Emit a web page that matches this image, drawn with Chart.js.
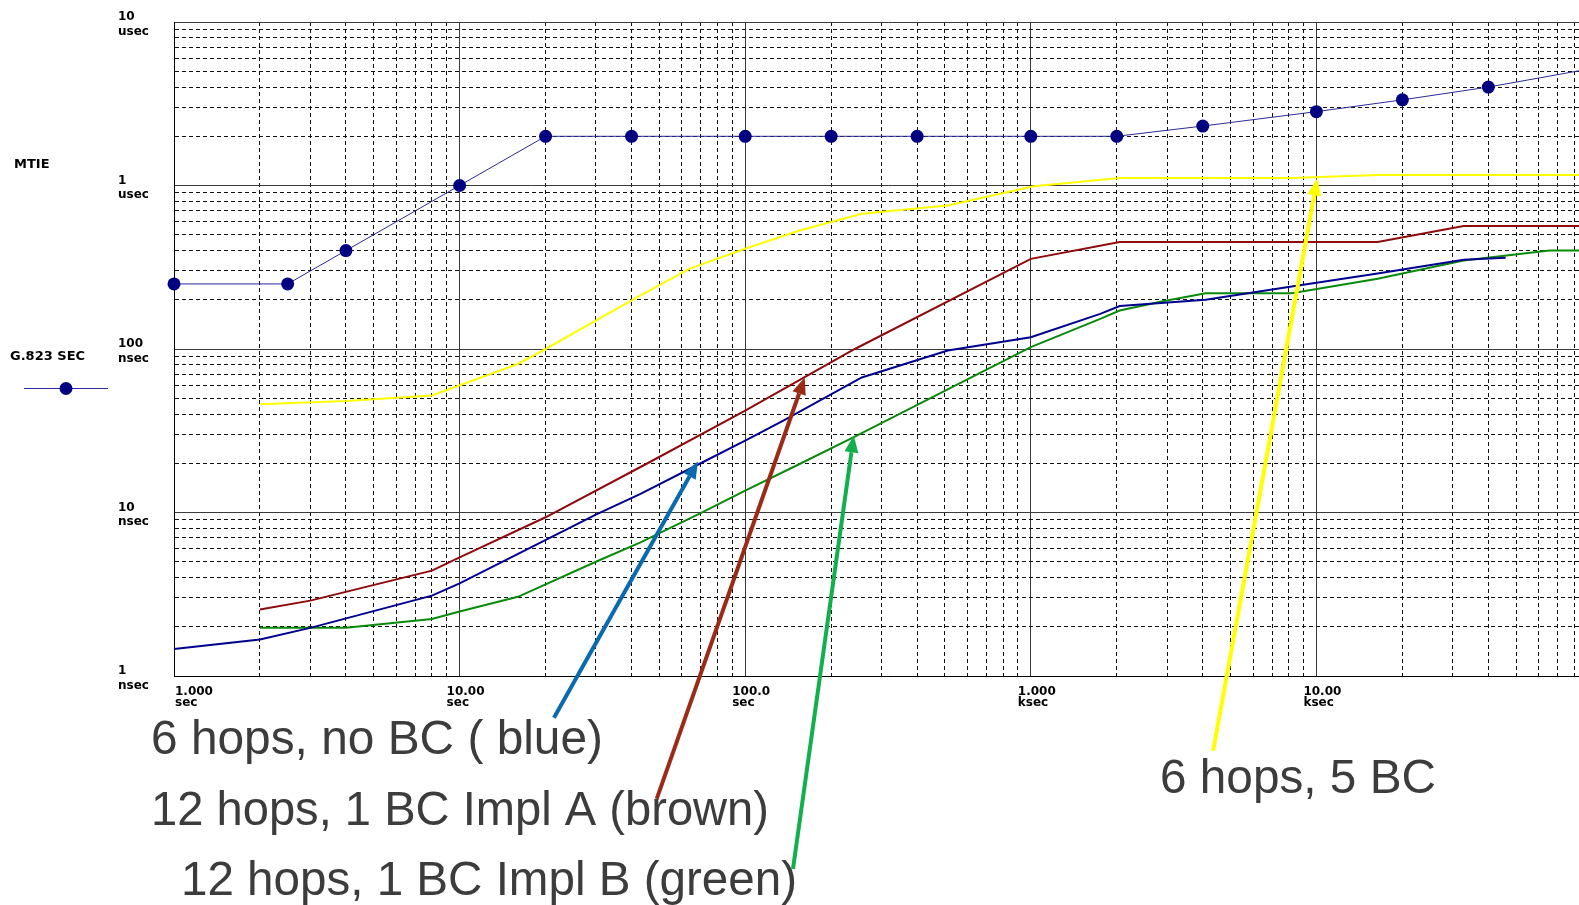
<!DOCTYPE html>
<html>
<head>
<meta charset="utf-8">
<title>MTIE</title>
<script src="https://cdn.jsdelivr.net/npm/chart.js@4.4.1/dist/chart.umd.min.js"></script>
<style>
  html, body { margin: 0; padding: 0; background: #fff; overflow: hidden; }
  #wrap { position: relative; width: 1602px; height: 905px; }
</style>
</head>
<body>
<div id="wrap"><canvas id="mtie-chart"></canvas></div>
<script>
// observation interval tau in seconds, MTIE in ns
const g823Tau = [1, 2.5, 4, 10, 20, 40, 100, 200, 400, 1000, 2000, 4000, 10000, 20000, 40000, 100000];
const g823Mtie = [250, 250, 400, 1000, 2000, 2000, 2000, 2000, 2000, 2000, 2000, 2310, 2830, 3340, 4000, 5330];

const noBcTau = [1, 2, 3, 8, 10, 30, 43, 69, 100, 136, 256, 512, 1000, 1750, 2048, 4096, 8192, 16384, 32768, 46000];
const noBcMtie = [1.46, 1.67, 1.97, 3.1, 3.69, 9.7, 13, 19.8, 27.5, 36.5, 67, 98, 118, 164, 183, 200, 241, 290, 352, 361];

const implATau = [2, 3, 8, 10, 20, 45, 100, 242, 1000, 2048, 16384, 32768, 100000];
const implAMtie = [2.55, 2.89, 4.41, 5.32, 9.35, 19.8, 42, 100, 356, 451, 451, 566, 566];

const implBTau = [2, 4, 8, 10, 16, 30, 43, 69, 100, 155, 242, 1000, 1750, 2048, 2900, 4096, 8192, 16384, 32768, 65536, 100000];
const implBMtie = [1.97, 1.97, 2.23, 2.48, 3.05, 5.0, 6.57, 9.8, 13.6, 19.8, 29.1, 102.6, 153, 172, 196, 219, 219, 269, 348, 401, 401];

const bc5Tau = [2, 4, 8, 16, 20, 40, 64, 100, 155, 256, 512, 1024, 2048, 8192, 16384, 100000];
const bc5Mtie = [46, 48, 52, 81, 100, 198, 310, 410, 530, 672, 755, 990, 1110, 1110, 1160, 1160];

const xDecades = [1, 10, 100, 1000, 10000];
const xTickText = [['1.000', 'sec'], ['10.00', 'sec'], ['100.0', 'sec'], ['1.000', 'ksec'], ['10.00', 'ksec']];
const yDecades = [1, 10, 100, 1000, 10000];
const yTickText = [['1', 'nsec'], ['10', 'nsec'], ['100', 'nsec'], ['1', 'usec'], ['10', 'usec']];

// annotation arrows: [tau, ns] for tail and tip
const arrowLabels = ['6 hops, no BC ( blue)', '12 hops, 1 BC Impl A (brown)', '12 hops, 1 BC Impl B (green)', '6 hops, 5 BC'];
const arrowTails = [[21.4, 0.556], [49, 0.177], [147, 0.066], [4350, 0.349]];
const arrowTips = [[68.3, 20.5], [161.6, 67], [240, 29.6], [10070, 1104]];

document.addEventListener('DOMContentLoaded', () => {
    const tickFont = 'bold 12px "DejaVu Sans", Arial, sans-serif';
    const arrowColors = ['#0a6ab0', '#9b2a16', '#12b04c', '#ffff00'];
    const labelPos = [[151, 754], [151, 825], [181, 895], [1160, 793]];
    const labelMaxWidth = [452, 618, 616, 276];

    const isDecade = (v) => Math.abs(Math.log10(v) - Math.round(Math.log10(v))) < 1e-9;

    function logTicks(min, max) {
        const ticks = [];
        for (let e = Math.round(Math.log10(min)); e < Math.round(Math.log10(max)); e++) {
            for (let m = 1; m < 10; m++) ticks.push({ value: m * Math.pow(10, e) });
        }
        ticks.push({ value: max });
        return ticks;
    }

    const toPoints = (xs, ys) => xs.map((t, i) => ({ x: t, y: ys[i] }));

    const gridColor = (ctx) => (ctx.tick && isDecade(ctx.tick.value)) ? '#3a3a3a' : '#111';
    const gridDash = (ctx) => (ctx.tick && !isDecade(ctx.tick.value)) ? [4, 3] : [];

    function drawArrow(ctx, x1, y1, x2, y2, color) {
        const ang = Math.atan2(y2 - y1, x2 - x1);
        const head = 17, half = 7;
        const bx = x2 - head * Math.cos(ang), by = y2 - head * Math.sin(ang);
        ctx.strokeStyle = color;
        ctx.fillStyle = color;
        ctx.lineWidth = 4;
        ctx.beginPath();
        ctx.moveTo(x1, y1);
        ctx.lineTo(bx, by);
        ctx.stroke();
        ctx.beginPath();
        ctx.moveTo(x2, y2);
        ctx.lineTo(bx + half * Math.sin(ang), by - half * Math.cos(ang));
        ctx.lineTo(bx - half * Math.sin(ang), by + half * Math.cos(ang));
        ctx.closePath();
        ctx.fill();
    }

    const annotations = {
        id: 'annotations',
        afterDraw(chart) {
            const { ctx, chartArea, scales: { x, y } } = chart;
            ctx.save();

            // two-line tick labels, placed from the scales
            ctx.font = tickFont;
            ctx.fillStyle = '#000';
            ctx.textAlign = 'left';
            ctx.textBaseline = 'alphabetic';
            xDecades.forEach((v, i) => {
                const px = x.getPixelForValue(v);
                const left = i === 0 ? px + 1 : px - 13;
                ctx.fillText(xTickText[i][0], left, chartArea.bottom + 18.5);
                ctx.fillText(xTickText[i][1], left, chartArea.bottom + 29.5);
            });
            yDecades.forEach((v, i) => {
                const py = y.getPixelForValue(v);
                ctx.fillText(yTickText[i][0], 118, py - 2);
                ctx.fillText(yTickText[i][1], 118, py + 12.5);
            });

            arrowTips.forEach((tip, i) => {
                drawArrow(ctx,
                    x.getPixelForValue(arrowTails[i][0]), y.getPixelForValue(arrowTails[i][1]),
                    x.getPixelForValue(tip[0]), y.getPixelForValue(tip[1]),
                    arrowColors[i]);
            });

            ctx.font = '48px "Liberation Sans", Arial, sans-serif';
            ctx.fillStyle = '#3c3c3c';
            arrowLabels.forEach((text, i) => ctx.fillText(text, labelPos[i][0], labelPos[i][1], labelMaxWidth[i]));

            // axis title and legend on the left
            ctx.font = 'bold 13px "DejaVu Sans", Arial, sans-serif';
            ctx.fillStyle = '#000';
            ctx.textBaseline = 'middle';
            ctx.fillText('MTIE', 14, 165);
            ctx.fillText(chart.data.datasets[0].label, 10, 357);
            ctx.strokeStyle = '#2a2a9a';
            ctx.lineWidth = 1;
            ctx.beginPath();
            ctx.moveTo(24, 388.5);
            ctx.lineTo(108, 388.5);
            ctx.stroke();
            ctx.fillStyle = '#000080';
            ctx.beginPath();
            ctx.arc(66, 388.5, 6.5, 0, Math.PI * 2);
            ctx.fill();
            ctx.restore();
        }
    };

    new Chart(document.getElementById('mtie-chart'), {
        type: 'line',
        data: {
            datasets: [
                {
                    label: 'G.823 SEC',
                    data: toPoints(g823Tau, g823Mtie),
                    borderColor: '#2a2a9a',
                    borderWidth: 1,
                    pointRadius: 6.5,
                    pointBackgroundColor: '#000080',
                    pointBorderWidth: 0,
                    clip: false
                },
                { label: '6 hops, no BC', data: toPoints(noBcTau, noBcMtie), borderColor: '#000090', borderWidth: 2, pointRadius: 0 },
                { label: '12 hops, 1 BC Impl A', data: toPoints(implATau, implAMtie), borderColor: '#8f0a0a', borderWidth: 2, pointRadius: 0 },
                { label: '12 hops, 1 BC Impl B', data: toPoints(implBTau, implBMtie), borderColor: '#0a8a0a', borderWidth: 2, pointRadius: 0 },
                { label: '6 hops, 5 BC', data: toPoints(bc5Tau, bc5Mtie), borderColor: '#ffff00', borderWidth: 2, pointRadius: 0 }
            ]
        },
        options: {
            responsive: true,
            maintainAspectRatio: false,
            animation: false,
            devicePixelRatio: 1,
            layout: { autoPadding: false, padding: { left: 118, top: 22, right: 0, bottom: 189 } },
            plugins: { legend: { display: false }, tooltip: { enabled: false } },
            elements: { line: { tension: 0 } },
            scales: {
                x: {
                    type: 'logarithmic',
                    min: 1,
                    max: 100000,
                    afterBuildTicks: (s) => { s.ticks = logTicks(1, 100000); },
                    afterFit: (s) => { s.height = 40; },
                    grid: { color: gridColor, lineWidth: 1, drawTicks: false },
                    border: { display: true, color: '#000', width: 1, dash: gridDash },
                    ticks: { display: false }
                },
                y: {
                    type: 'logarithmic',
                    min: 1,
                    max: 10000,
                    afterBuildTicks: (s) => { s.ticks = logTicks(1, 10000); },
                    afterFit: (s) => { s.width = 56; },
                    grid: { color: gridColor, lineWidth: 1, drawTicks: false },
                    border: { display: true, color: '#000', width: 1, dash: gridDash },
                    ticks: { display: false }
                }
            }
        },
        plugins: [annotations]
    });
});
</script>
</body>
</html>
